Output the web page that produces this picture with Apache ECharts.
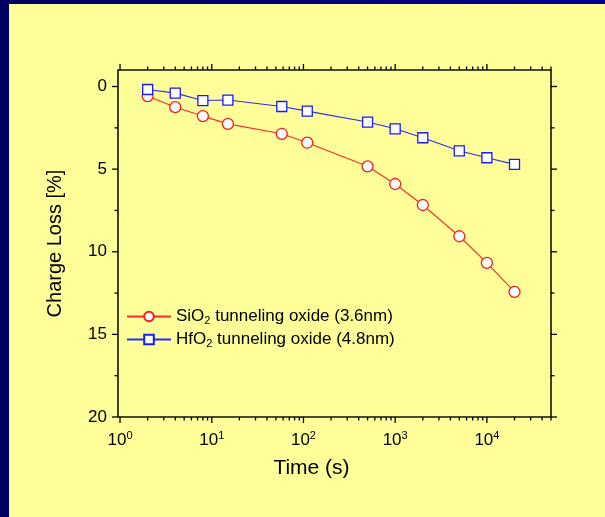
<!DOCTYPE html>
<html><head><meta charset="utf-8">
<script src="https://cdn.jsdelivr.net/npm/echarts@6/dist/echarts.min.js"></script>
<style>
html,body{margin:0;padding:0;width:605px;height:517px;overflow:hidden;background:linear-gradient(to right,#000060,#000092);}
#panel{position:absolute;left:9px;top:4px;width:596px;height:513px;background:#ffff99;}
#chart{position:absolute;left:0;top:0;width:605px;height:517px;}
</style></head><body><div id="panel"></div><div id="chart"></div>
<script>
// ---- data ----
const times = [2, 4, 8, 15, 58, 110, 500, 1000, 2000, 5000, 10000, 20000];
const sio2Loss = [0.58, 1.25, 1.79, 2.26, 2.86, 3.40, 4.83, 5.90, 7.17, 9.06, 10.67, 12.43];
const hfo2Loss = [0.18, 0.40, 0.85, 0.82, 1.21, 1.49, 2.15, 2.56, 3.10, 3.89, 4.31, 4.71];
const seriesNames = ['SiO2 tunneling oxide (3.6nm)', 'HfO2 tunneling oxide (4.8nm)'];
const xMajorTicks = [1, 10, 100, 1000, 10000];
const xMinorTicks = [2,3,4,5,6,7,8,9, 20,30,40,50,60,70,80,90, 200,300,400,500,600,700,800,900,
  2000,3000,4000,5000,6000,7000,8000,9000, 20000,30000,40000,50000];
const yMajorTicks = [0, 5, 10, 15, 20];
const yMinorTicks = [2.5, 7.5, 12.5, 17.5];

const FONT = '"Liberation Sans", Arial, sans-serif';
const chart = echarts.init(document.getElementById('chart'), null, {renderer: 'canvas'});

function tickRender(params, api) {
  const cs = params.coordSys;
  const top = cs.y, bottom = cs.y + cs.height, left = cs.x, right = cs.x + cs.width;
  const ch = [];
  const st = {stroke: '#000', lineWidth: 1.3};
  function addX(v, len) {
    const x = api.coord([v, 0])[0];
    ch.push({type: 'line', shape: {x1: x, y1: bottom, x2: x, y2: bottom + len}, style: st});
    ch.push({type: 'line', shape: {x1: x, y1: top, x2: x, y2: top - len}, style: st});
  }
  function addY(v, len) {
    const y = api.coord([1, v])[1];
    ch.push({type: 'line', shape: {x1: left, y1: y, x2: left - len, y2: y}, style: st});
    ch.push({type: 'line', shape: {x1: right, y1: y, x2: right + len, y2: y}, style: st});
  }
  xMajorTicks.forEach(v => addX(v, 6));
  xMinorTicks.forEach(v => addX(v, 3.5));
  yMajorTicks.forEach(v => addY(v, 6));
  yMinorTicks.forEach(v => addY(v, 3.5));
  return {type: 'group', children: ch};
}

function legendFmt(name) {
  const parts = name.split('2');
  return '{t|' + parts[0] + '}{s|2}{t|' + parts.slice(1).join('2') + '}';
}

chart.setOption({
  animation: false,
  backgroundColor: 'transparent',
  grid: {left: 118, right: 54, top: 70, bottom: 100, show: true, borderColor: '#111', borderWidth: 1.6, backgroundColor: 'transparent'},
  xAxis: {
    type: 'log', logBase: 10, min: 0.95, max: 50000,
    name: 'Time (s)', nameLocation: 'middle', nameGap: 41,
    nameTextStyle: {fontSize: 21, fontFamily: FONT, color: '#000', padding: [0, 46, 0, 0]},
    axisLine: {show: false}, axisTick: {show: false}, splitLine: {show: false}, minorTick: {show: false},
    axisLabel: {
      margin: 13, color: '#000', fontFamily: FONT,
      formatter: function (v) {
        const e = Math.log10(v), r = Math.round(e);
        if (Math.abs(e - r) > 1e-6) return '';
        return '{b|10}{p|' + r + '}';
      },
      rich: {
        b: {fontSize: 17, fontFamily: FONT, color: '#000', lineHeight: 20},
        p: {fontSize: 11, fontFamily: FONT, color: '#000', lineHeight: 10, verticalAlign: 'top'}
      }
    }
  },
  yAxis: {
    type: 'value', inverse: true, min: -1, max: 20, interval: 1,
    name: 'Charge Loss [%]', nameLocation: 'middle', nameGap: 53,
    nameTextStyle: {fontSize: 20, fontFamily: FONT, color: '#000'},
    axisLine: {show: false}, axisTick: {show: false}, splitLine: {show: false},
    axisLabel: {
      margin: 11, fontSize: 17, fontFamily: FONT, color: '#000',
      formatter: function (v) { const r = Math.round(v); return (Math.abs(v - r) < 1e-6 && r % 5 === 0 && r >= 0) ? String(r) : ''; }
    }
  },
  legend: {
    data: seriesNames, orient: 'vertical', left: 126, top: 308, padding: 0,
    itemWidth: 44, itemHeight: 12, itemGap: 5,
    formatter: legendFmt,
    textStyle: {
      fontSize: 17, fontFamily: FONT, color: '#000',
      rich: {
        t: {fontSize: 17, fontFamily: FONT, color: '#000', lineHeight: 19},
        s: {fontSize: 11, fontFamily: FONT, color: '#000', lineHeight: 8, verticalAlign: 'bottom'}
      }
    }
  },
  series: [
    {
      name: seriesNames[0], type: 'line', data: times.map((t, i) => [t, sio2Loss[i]]),
      symbol: 'circle', symbolSize: 11, z: 3,
      itemStyle: {color: '#ffffff', borderColor: '#ff1a1a', borderWidth: 1.3},
      lineStyle: {color: '#ff2a2a', width: 1.1}
    },
    {
      name: seriesNames[1], type: 'line', data: times.map((t, i) => [t, hfo2Loss[i]]),
      symbol: 'rect', symbolSize: 10, z: 3,
      itemStyle: {color: '#ffffff', borderColor: '#1a1aff', borderWidth: 1.3},
      lineStyle: {color: '#2a2aff', width: 1.1}
    },
    {
      name: 'ticks', type: 'custom', silent: true, clip: false, z: 1,
      data: [[1, 0]], renderItem: tickRender
    }
  ]
});
</script></body></html>
